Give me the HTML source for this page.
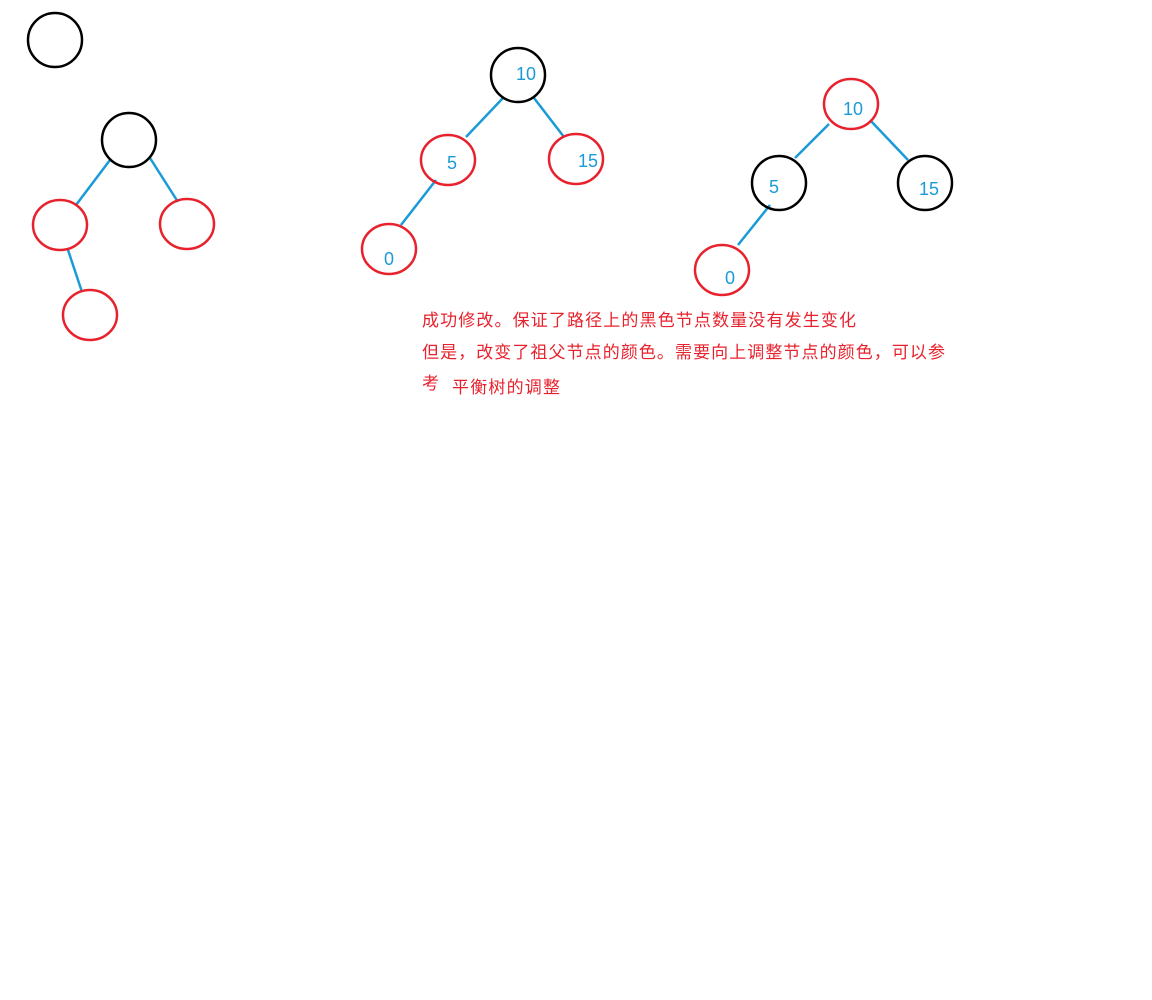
<!DOCTYPE html>
<html><head><meta charset="utf-8">
<style>
html,body{margin:0;padding:0;background:#fff;width:1152px;height:1000px;overflow:hidden}
svg{display:block}
.r{fill:none;stroke:#e8222d;stroke-width:2.5}
.b{fill:none;stroke:#000;stroke-width:2.5}
.e{stroke:#1a9bd7;stroke-width:2.5}
.n{fill:#1a9bd7;font-family:"Liberation Sans",sans-serif;font-size:18px}
.t{fill:#e8222d;font-family:"Liberation Sans","Noto Sans CJK SC",sans-serif;font-size:17px}
</style></head><body>
<svg width="1152" height="1000">
<ellipse class="b" cx="55" cy="40" rx="27" ry="27"/>
<g>
<line class="e" x1="110" y1="160" x2="76" y2="205"/>
<line class="e" x1="150" y1="158" x2="178" y2="202"/>
<line class="e" x1="68" y1="250" x2="82" y2="292"/>
<ellipse class="b" cx="129" cy="140" rx="27" ry="27"/>
<ellipse class="r" cx="60" cy="225" rx="27" ry="25"/>
<ellipse class="r" cx="187" cy="224" rx="27" ry="25"/>
<ellipse class="r" cx="90" cy="315" rx="27" ry="25"/>
</g>
<g>
<line class="e" x1="503" y1="98" x2="466" y2="137"/>
<line class="e" x1="534" y1="98" x2="564" y2="137"/>
<line class="e" x1="436" y1="180" x2="401" y2="225"/>
<ellipse class="b" cx="518" cy="75" rx="27" ry="27"/>
<ellipse class="r" cx="448" cy="160" rx="27" ry="25"/>
<ellipse class="r" cx="576" cy="159" rx="27" ry="25"/>
<ellipse class="r" cx="389" cy="249" rx="27" ry="25"/>
<text class="n" x="516" y="80">10</text>
<text class="n" x="447" y="169">5</text>
<text class="n" x="578" y="167">15</text>
<text class="n" x="384" y="265">0</text>
</g>
<g>
<line class="e" x1="829" y1="124" x2="795" y2="158"/>
<line class="e" x1="870" y1="120" x2="908" y2="160"/>
<line class="e" x1="770" y1="205" x2="738" y2="245"/>
<ellipse class="r" cx="851" cy="104" rx="27" ry="25"/>
<ellipse class="b" cx="779" cy="183" rx="27" ry="27"/>
<ellipse class="b" cx="925" cy="183" rx="27" ry="27"/>
<ellipse class="r" cx="722" cy="270" rx="27" ry="25"/>
<text class="n" x="843" y="115">10</text>
<text class="n" x="769" y="193">5</text>
<text class="n" x="919" y="195">15</text>
<text class="n" x="725" y="284">0</text>
</g>
<g>
<text class="t" x="422" y="326" textLength="434">成功修改。保证了路径上的黑色节点数量没有发生变化</text>
<text class="t" x="422" y="358" textLength="523">但是，改变了祖父节点的颜色。需要向上调整节点的颜色，可以参</text>
<text class="t" x="422" y="389">考</text>
<text class="t" x="452" y="393" textLength="108">平衡树的调整</text>
</g>
</svg>
</body></html>
